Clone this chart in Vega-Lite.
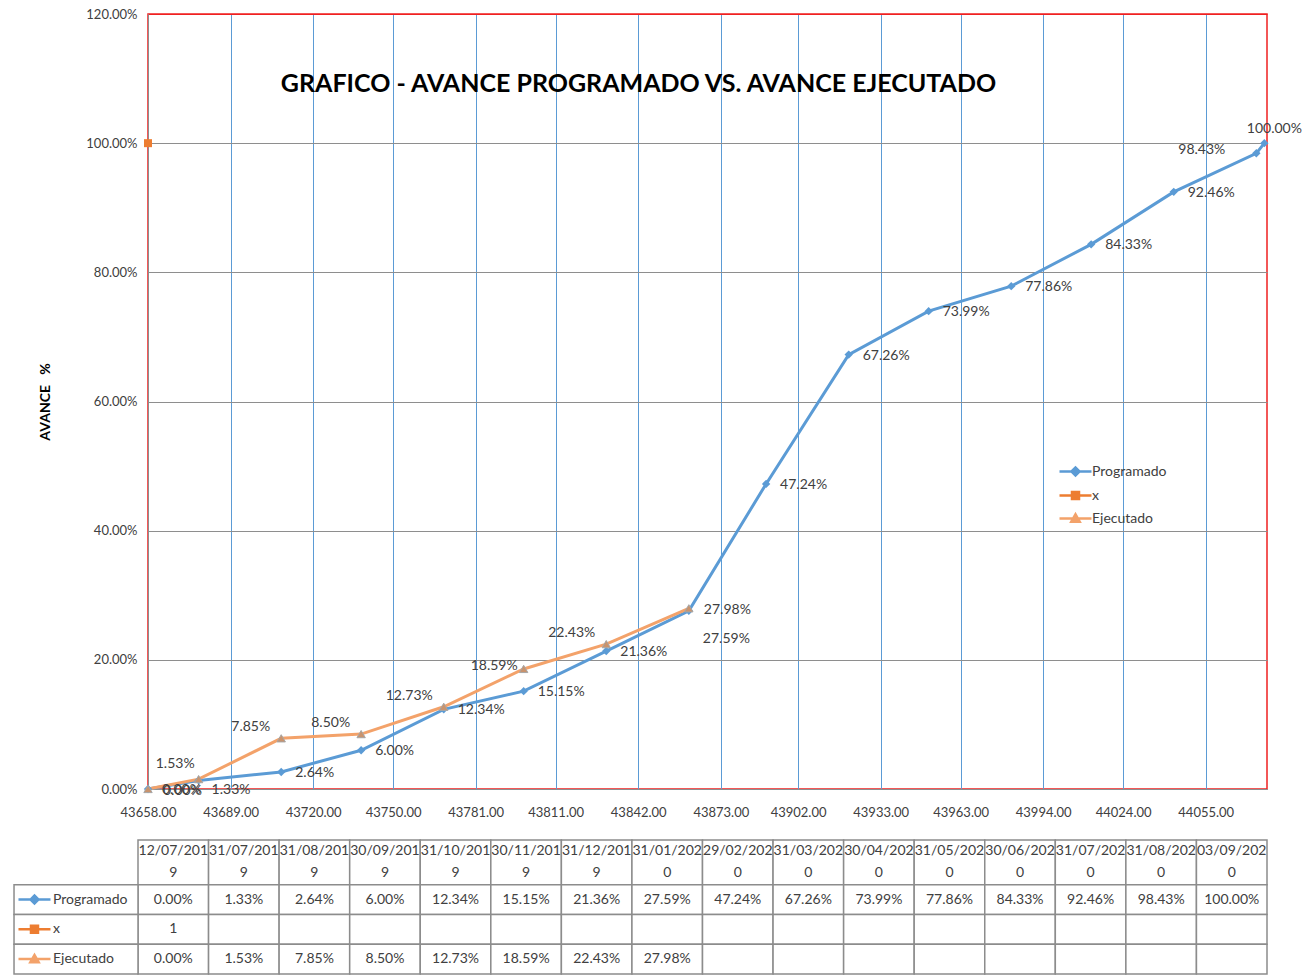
{
  "$schema": "https://vega.github.io/schema/vega-lite/v6.json",
  "padding": {"left": 13, "top": 7, "right": 0, "bottom": 0},
  "background": "white",
  "spacing": 19,
  "config": {
    "font": "Lato",
    "view": {"stroke": null},
    "axis": {"labelFont": "Lato", "labelColor": "#404040", "labelFontSize": 13}
  },
  "resolve": {"scale": {"shape": "independent", "fill": "independent", "stroke": "independent"}},
  "datasets": {
    "avance": [
      {"fecha": "12/07/2019", "serial": 43658, "Programado": 0, "x": 1, "Ejecutado": 0},
      {"fecha": "31/07/2019", "serial": 43677, "Programado": 0.0133, "x": null, "Ejecutado": 0.0153},
      {"fecha": "31/08/2019", "serial": 43708, "Programado": 0.0264, "x": null, "Ejecutado": 0.0785},
      {"fecha": "30/09/2019", "serial": 43738, "Programado": 0.06, "x": null, "Ejecutado": 0.085},
      {"fecha": "31/10/2019", "serial": 43769, "Programado": 0.1234, "x": null, "Ejecutado": 0.1273},
      {"fecha": "30/11/2019", "serial": 43799, "Programado": 0.1515, "x": null, "Ejecutado": 0.1859},
      {"fecha": "31/12/2019", "serial": 43830, "Programado": 0.2136, "x": null, "Ejecutado": 0.2243},
      {"fecha": "31/01/2020", "serial": 43861, "Programado": 0.2759, "x": null, "Ejecutado": 0.2798},
      {"fecha": "29/02/2020", "serial": 43890, "Programado": 0.4724, "x": null, "Ejecutado": null},
      {"fecha": "31/03/2020", "serial": 43921, "Programado": 0.6726, "x": null, "Ejecutado": null},
      {"fecha": "30/04/2020", "serial": 43951, "Programado": 0.7399, "x": null, "Ejecutado": null},
      {"fecha": "31/05/2020", "serial": 43982, "Programado": 0.7786, "x": null, "Ejecutado": null},
      {"fecha": "30/06/2020", "serial": 44012, "Programado": 0.8433, "x": null, "Ejecutado": null},
      {"fecha": "31/07/2020", "serial": 44043, "Programado": 0.9246, "x": null, "Ejecutado": null},
      {"fecha": "31/08/2020", "serial": 44074, "Programado": 0.9843, "x": null, "Ejecutado": null},
      {"fecha": "03/09/2020", "serial": 44077, "Programado": 1, "x": null, "Ejecutado": null}
    ]
  },
  "vconcat": [
    {
      "width": 1119,
      "height": 775,
      "view": {"stroke": "#F02020", "strokeWidth": 1.5},
      "title": {
        "text": "GRAFICO - AVANCE PROGRAMADO VS. AVANCE EJECUTADO",
        "font": "Lato",
        "fontSize": 25,
        "fontWeight": "bold",
        "color": "#000000",
        "anchor": "middle",
        "frame": "group",
        "dx": -69,
        "offset": -89
      },
      "data": {"name": "avance"},
      "transform": [
        {"fold": ["Programado", "x", "Ejecutado"], "as": ["serie", "valor"]},
        {"filter": "isValid(datum.valor)"}
      ],
      "encoding": {
        "x": {
          "field": "serial",
          "type": "quantitative",
          "scale": {"domain": [43658, 44078], "nice": false, "zero": false},
          "axis": {
            "values": [43658, 43689, 43720, 43750, 43781, 43811, 43842, 43873, 43902, 43933, 43963, 43994, 44024, 44055],
            "format": ".2f",
            "title": null,
            "ticks": false,
            "labelPadding": 17,
            "labelFlush": false,
            "domainColor": "#8E8E8E",
            "grid": true,
            "gridWidth": 1,
            "gridColor": {"condition": {"test": "datum.value < 43660", "value": "#8E8E8E"}, "value": "#5B9BD5"}
          }
        },
        "y": {
          "field": "valor",
          "type": "quantitative",
          "scale": {"domain": [0, 1.2], "nice": false},
          "axis": {
            "values": [0, 0.2, 0.4, 0.6, 0.8, 1, 1.2],
            "format": ".2%",
            "title": "AVANCE\u00a0\u00a0\u00a0%",
            "titleFont": "Lato",
            "titleFontWeight": "bold",
            "titleFontSize": 14,
            "titleColor": "#000000",
            "titlePadding": 33,
            "ticks": false,
            "labelPadding": 11,
            "domainColor": "#8E8E8E",
            "grid": true,
            "gridColor": {"condition": {"test": "datum.value > 1.1", "value": "#F02020"}, "value": "#8E8E8E"}
          }
        }
      },
      "layer": [
        {
          "transform": [{"filter": "datum.serie === 'Programado'"}],
          "mark": {"type": "line", "color": "#5B9BD5", "strokeWidth": 3}
        },
        {
          "transform": [{"filter": "datum.serie === 'Ejecutado'"}],
          "mark": {"type": "line", "color": "#F3A26A", "strokeWidth": 3}
        },
        {
          "transform": [{"filter": "datum.serie === 'Programado'"}],
          "mark": {"type": "point", "shape": "diamond", "filled": true, "color": "#5B9BD5", "size": 70, "opacity": 1}
        },
        {
          "transform": [{"filter": "datum.serie === 'x'"}],
          "mark": {"type": "point", "shape": "square", "filled": true, "color": "#ED7D31", "size": 64, "opacity": 1}
        },
        {
          "transform": [{"filter": "datum.serie === 'Ejecutado'"}],
          "mark": {"type": "point", "shape": "triangle-up", "filled": true, "fill": "#C9936D", "stroke": "#A6A6A6", "strokeWidth": 1, "size": 70, "opacity": 1}
        },
        {
          "mark": {"type": "point", "opacity": 0, "filled": true},
          "encoding": {
            "shape": {
              "field": "serie", "type": "nominal",
              "scale": {"domain": ["Programado", "x", "Ejecutado"], "range": ["M-1.6,0H1.6M-0.4,0L0,-0.4L0.4,0L0,0.4Z", "M-1.6,0H1.6M-0.35,-0.35H0.35V0.35H-0.35Z", "M-1.6,0H1.6M-0.42,0.32L0,-0.42L0.42,0.32Z"]},
              "legend": {"title": null, "orient": "none", "legendX": 916, "legendY": 446, "symbolSize": 400, "symbolStrokeWidth": 2.5, "symbolOpacity": 1, "labelFont": "Lato", "labelFontSize": 14, "labelColor": "#404040", "labelOffset": 5, "rowPadding": 3, "padding": 0}
            },
            "fill": {
              "field": "serie", "type": "nominal",
              "scale": {"domain": ["Programado", "x", "Ejecutado"], "range": ["#5B9BD5", "#ED7D31", "#F3A26A"]},
              "legend": {"title": null, "orient": "none", "legendX": 916, "legendY": 446, "symbolSize": 400, "symbolStrokeWidth": 2.5, "symbolOpacity": 1, "labelFont": "Lato", "labelFontSize": 14, "labelColor": "#404040", "labelOffset": 5, "rowPadding": 3, "padding": 0}
            },
            "stroke": {
              "field": "serie", "type": "nominal",
              "scale": {"domain": ["Programado", "x", "Ejecutado"], "range": ["#5B9BD5", "#ED7D31", "#F3A26A"]},
              "legend": {"title": null, "orient": "none", "legendX": 916, "legendY": 446, "symbolSize": 400, "symbolStrokeWidth": 2.5, "symbolOpacity": 1, "labelFont": "Lato", "labelFontSize": 14, "labelColor": "#404040", "labelOffset": 5, "rowPadding": 3, "padding": 0}
            }
          }
        },
        {
          "transform": [{"filter": "datum.serie === 'Programado' && datum.serial !== 43677 && datum.serial !== 43861 && datum.serial < 44074"}],
          "mark": {"type": "text", "align": "left", "baseline": "middle", "dx": 14, "dy": 1, "fontSize": 14, "color": "#404040"},
          "encoding": {"text": {"field": "valor", "type": "quantitative", "format": ".2%"}}
        },
        {
          "transform": [{"filter": "datum.serie === 'Programado' && datum.serial === 43677"}],
          "mark": {"type": "text", "align": "left", "baseline": "middle", "dx": 13, "dy": 10, "fontSize": 14, "color": "#404040"},
          "encoding": {"text": {"field": "valor", "type": "quantitative", "format": ".2%"}}
        },
        {
          "transform": [{"filter": "datum.serie === 'Programado' && datum.serial === 43861"}],
          "mark": {"type": "text", "align": "left", "baseline": "middle", "dx": 14, "dy": 28, "fontSize": 14, "color": "#404040"},
          "encoding": {"text": {"field": "valor", "type": "quantitative", "format": ".2%"}}
        },
        {
          "transform": [{"filter": "datum.serie === 'Programado' && datum.serial === 44074"}],
          "mark": {"type": "text", "align": "right", "baseline": "middle", "dx": -31, "dy": -3, "fontSize": 14, "color": "#404040"},
          "encoding": {"text": {"field": "valor", "type": "quantitative", "format": ".2%"}}
        },
        {
          "transform": [{"filter": "datum.serie === 'Programado' && datum.serial === 44077"}],
          "mark": {"type": "text", "align": "center", "baseline": "middle", "dx": 10, "dy": -14, "fontSize": 14, "color": "#404040"},
          "encoding": {"text": {"field": "valor", "type": "quantitative", "format": ".2%"}}
        },
        {
          "transform": [{"filter": "datum.serie === 'Ejecutado' && indexof([43708, 43738, 43769, 43830], datum.serial) >= 0"}],
          "mark": {"type": "text", "align": "right", "baseline": "middle", "dx": -11, "dy": -11, "fontSize": 14, "color": "#404040"},
          "encoding": {"text": {"field": "valor", "type": "quantitative", "format": ".2%"}}
        },
        {
          "transform": [{"filter": "datum.serie === 'Ejecutado' && datum.serial === 43677"}],
          "mark": {"type": "text", "align": "right", "baseline": "middle", "dx": -4, "dy": -15, "fontSize": 14, "color": "#404040"},
          "encoding": {"text": {"field": "valor", "type": "quantitative", "format": ".2%"}}
        },
        {
          "transform": [{"filter": "datum.serie === 'Ejecutado' && datum.serial === 43799"}],
          "mark": {"type": "text", "align": "right", "baseline": "middle", "dx": -6, "dy": -3, "fontSize": 14, "color": "#404040"},
          "encoding": {"text": {"field": "valor", "type": "quantitative", "format": ".2%"}}
        },
        {
          "transform": [{"filter": "datum.serie === 'Ejecutado' && (datum.serial === 43658 || datum.serial === 43861)"}],
          "mark": {"type": "text", "align": "left", "baseline": "middle", "dx": 15, "dy": 2, "fontSize": 14, "color": "#404040"},
          "encoding": {"text": {"field": "valor", "type": "quantitative", "format": ".2%"}}
        }
      ]
    },
    {
      "width": 1119,
      "height": 134,
      "data": {"name": "avance"},
      "transform": [
        {"window": [{"op": "row_number", "as": "col"}], "sort": [{"field": "serial", "order": "ascending"}]},
        {"calculate": "datum.col - 1", "as": "c0"},
        {"calculate": "datum.col - 0.5", "as": "cm"}
      ],
      "layer": [
        {
          "mark": {"type": "rect", "fill": "white", "stroke": "#8C8C8C", "strokeWidth": 1.5},
          "encoding": {
            "x": {"field": "c0", "type": "quantitative", "scale": {"domain": [0.1417, 16], "nice": false, "zero": false}, "axis": null},
            "x2": {"field": "col"},
            "y": {"datum": 0, "type": "quantitative", "scale": {"domain": [0, 4.5], "reverse": true, "nice": false, "zero": false}, "axis": null},
            "y2": {"datum": 1.5}
          }
        },
        {
          "transform": [
            {"fold": ["Programado", "x", "Ejecutado"], "as": ["serie", "valor"]},
            {"calculate": "datum.serie === 'Programado' ? 1.5 : (datum.serie === 'x' ? 2.5 : 3.5)", "as": "r0"},
            {"calculate": "datum.r0 + 1", "as": "r1"}
          ],
          "mark": {"type": "rect", "fill": "white", "stroke": "#8C8C8C", "strokeWidth": 1.5},
          "encoding": {
            "x": {"field": "c0", "type": "quantitative", "scale": {"domain": [0.1417, 16], "nice": false, "zero": false}, "axis": null},
            "x2": {"field": "col"},
            "y": {"field": "r0", "type": "quantitative", "scale": {"domain": [0, 4.5], "reverse": true, "nice": false, "zero": false}, "axis": null},
            "y2": {"field": "r1"}
          }
        },
        {
          "transform": [{"calculate": "slice(datum.fecha, 0, 9) + '\\n' + slice(datum.fecha, 9)", "as": "hdr"}],
          "mark": {"type": "text", "lineBreak": "\n", "lineHeight": 22, "fontSize": 14, "color": "#404040", "align": "center", "baseline": "middle", "dy": -11},
          "encoding": {
            "x": {"field": "cm", "type": "quantitative", "scale": {"domain": [0.1417, 16], "nice": false, "zero": false}, "axis": null},
            "y": {"datum": 0.75, "type": "quantitative", "scale": {"domain": [0, 4.5], "reverse": true, "nice": false, "zero": false}, "axis": null},
            "text": {"field": "hdr", "type": "nominal"}
          }
        },
        {
          "transform": [
            {"fold": ["Programado", "x", "Ejecutado"], "as": ["serie", "valor"]},
            {"calculate": "datum.serie === 'Programado' ? 2 : (datum.serie === 'x' ? 3 : 4)", "as": "rm"},
            {"calculate": "isValid(datum.valor) ? (datum.serie === 'x' ? format(datum.valor, 'd') : format(datum.valor, '.2%')) : ''", "as": "label"}
          ],
          "mark": {"type": "text", "fontSize": 14, "color": "#404040", "align": "center", "baseline": "middle"},
          "encoding": {
            "x": {"field": "cm", "type": "quantitative", "scale": {"domain": [0.1417, 16], "nice": false, "zero": false}, "axis": null},
            "y": {"field": "rm", "type": "quantitative", "scale": {"domain": [0, 4.5], "reverse": true, "nice": false, "zero": false}, "axis": null},
            "text": {"field": "label", "type": "nominal"}
          }
        },
        {
          "transform": [
            {"filter": "datum.col === 1"},
            {"fold": ["Programado", "x", "Ejecutado"], "as": ["serie", "valor"]},
            {"calculate": "datum.serie === 'Programado' ? 1.5 : (datum.serie === 'x' ? 2.5 : 3.5)", "as": "r0"},
            {"calculate": "datum.r0 + 1", "as": "r1"}
          ],
          "mark": {"type": "rect", "fill": "white", "stroke": "#8C8C8C", "strokeWidth": 1.5},
          "encoding": {
            "x": {"datum": -1.757, "type": "quantitative", "scale": {"domain": [0.1417, 16], "nice": false, "zero": false}, "axis": null},
            "x2": {"datum": 0},
            "y": {"field": "r0", "type": "quantitative", "scale": {"domain": [0, 4.5], "reverse": true, "nice": false, "zero": false}, "axis": null},
            "y2": {"field": "r1"}
          }
        },
        {
          "transform": [
            {"filter": "datum.col === 1"},
            {"fold": ["Programado", "x", "Ejecutado"], "as": ["serie", "valor"]},
            {"calculate": "datum.serie === 'Programado' ? 2 : (datum.serie === 'x' ? 3 : 4)", "as": "rm"}
          ],
          "mark": {"type": "text", "fontSize": 14, "color": "#404040", "align": "left", "baseline": "middle"},
          "encoding": {
            "x": {"datum": -1.2046, "type": "quantitative", "scale": {"domain": [0.1417, 16], "nice": false, "zero": false}, "axis": null},
            "y": {"field": "rm", "type": "quantitative", "scale": {"domain": [0, 4.5], "reverse": true, "nice": false, "zero": false}, "axis": null},
            "text": {"field": "serie", "type": "nominal"}
          }
        },
        {
          "transform": [
            {"filter": "datum.col === 1"},
            {"fold": ["Programado", "x", "Ejecutado"], "as": ["serie", "valor"]},
            {"calculate": "datum.serie === 'Programado' ? 2 : (datum.serie === 'x' ? 3 : 4)", "as": "rm"}
          ],
          "mark": {"type": "point", "filled": true, "size": 400, "strokeWidth": 2.5, "opacity": 1},
          "encoding": {
            "x": {"datum": -1.467, "type": "quantitative", "scale": {"domain": [0.1417, 16], "nice": false, "zero": false}, "axis": null},
            "y": {"field": "rm", "type": "quantitative", "scale": {"domain": [0, 4.5], "reverse": true, "nice": false, "zero": false}, "axis": null},
            "shape": {
              "field": "serie", "type": "nominal",
              "scale": {"domain": ["Programado", "x", "Ejecutado"], "range": ["M-1.6,0H1.6M-0.4,0L0,-0.4L0.4,0L0,0.4Z", "M-1.6,0H1.6M-0.35,-0.35H0.35V0.35H-0.35Z", "M-1.6,0H1.6M-0.42,0.32L0,-0.42L0.42,0.32Z"]},
              "legend": null
            },
            "fill": {"field": "serie", "type": "nominal", "scale": {"domain": ["Programado", "x", "Ejecutado"], "range": ["#5B9BD5", "#ED7D31", "#F3A26A"]}, "legend": null},
            "stroke": {"field": "serie", "type": "nominal", "scale": {"domain": ["Programado", "x", "Ejecutado"], "range": ["#5B9BD5", "#ED7D31", "#F3A26A"]}, "legend": null}
          }
        }
      ]
    }
  ]
}
